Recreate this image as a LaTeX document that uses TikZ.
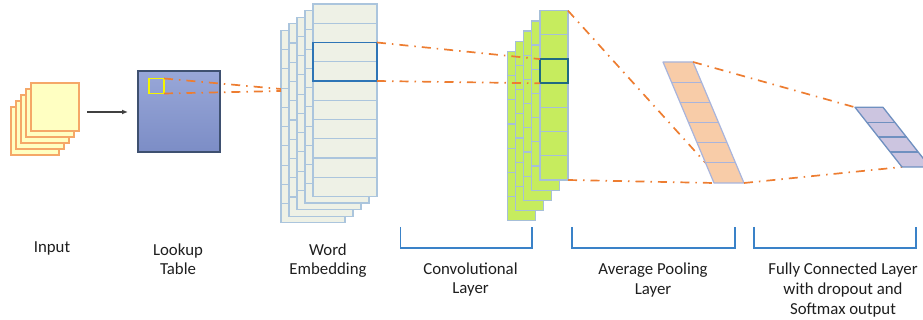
\documentclass[tikz,border=0pt]{standalone}
\usepackage{fontspec}
\setmainfont{Carlito}
\usetikzlibrary{arrows.meta,calc}

\definecolor{inputfill}{HTML}{FFFFC2}
\definecolor{inputborder}{HTML}{F5A868}
\definecolor{arrowgray}{HTML}{404040}
\definecolor{lookuptop}{HTML}{98A7D8}
\definecolor{lookupbottom}{HTML}{7C8DC6}
\definecolor{lookupborder}{HTML}{3E5070}
\definecolor{selyellow}{HTML}{F5F500}
\definecolor{embfill}{HTML}{EEF1E6}
\definecolor{embborder}{HTML}{ABC5DD}
\definecolor{hlblue}{HTML}{2E75B6}
\definecolor{convfill}{HTML}{C6EC5E}
\definecolor{convborder}{HTML}{A6BFD8}
\definecolor{convsel}{HTML}{1F6A82}
\definecolor{poolfill}{HTML}{F8CCA8}
\definecolor{poolborder}{HTML}{A8B4DC}
\definecolor{fcfill}{HTML}{CCC5E0}
\definecolor{fcborder}{HTML}{6F90C0}
\definecolor{linkorange}{HTML}{ED7D31}
\definecolor{bracketblue}{HTML}{3A82C8}
\definecolor{labeltext}{HTML}{1E1E1E}

\begin{document}
\begin{tikzpicture}[x=1pt,y=-1pt,
  inputsheet/.style={draw=inputborder, fill=inputfill, line width=1.2pt,
    minimum size=48pt, inner sep=0pt, outer sep=0pt},
  lookupbox/.style={draw=lookupborder, line width=1.5pt, top color=lookuptop,
    bottom color=lookupbottom, minimum width=82pt, minimum height=81pt,
    inner sep=0pt, outer sep=0pt},
  selbox/.style={draw=selyellow, line width=1.8pt, minimum size=15pt,
    inner sep=0pt, outer sep=0pt},
  embsheet/.style={draw=embborder, fill=embfill, line width=1.2pt,
    minimum width=64pt, minimum height=192.5pt, anchor=north west,
    inner sep=0pt, outer sep=0pt},
  embgrid/.style={draw=embborder, line width=1.1pt},
  embsel/.style={draw=hlblue, line width=1.8pt, minimum width=64pt,
    minimum height=38.5pt, anchor=north west, inner sep=0pt, outer sep=0pt},
  convsheet/.style={draw=convborder, fill=convfill, line width=1.3pt,
    minimum width=28pt, minimum height=169.3pt, anchor=north west,
    inner sep=0pt, outer sep=0pt},
  convgrid/.style={draw=convborder, line width=1.2pt},
  convselbox/.style={draw=convsel, line width=1.6pt, minimum width=28pt,
    minimum height=24.2pt, anchor=north west, inner sep=0pt, outer sep=0pt},
  poolshape/.style={draw=poolborder, fill=poolfill, line width=1.2pt, line join=round},
  poolgrid/.style={draw=poolborder, line width=1.2pt},
  fcshape/.style={draw=fcborder, fill=fcfill, line width=1.3pt, line join=round},
  fcgrid/.style={draw=fcborder, line width=1.3pt},
  orangelink/.style={draw=linkorange, line width=1.7pt,
    dash pattern=on 9pt off 6pt on 1.5pt off 6pt},
  bracketline/.style={draw=bracketblue, line width=1.4pt},
  % anchor=base puts the baseline of the last line at the given point
  caption/.style={font=\fontsize{16.8}{20}\selectfont, text=labeltext,
    align=center, inner sep=0pt, anchor=base},
]
\useasboundingbox (0,0) rectangle (923,320);

% ---- input: a stack of five sheets
\foreach \i in {4,3,2,1} {
  \node[inputsheet] (in\i) at ({55-5*\i},{107+6*\i}) {};
}
\node[inputsheet] (input) at (55,107) {};

% ---- lookup table
\node[lookupbox] (lookup) at (179,111.5) {};
\node[selbox] (sel) at (156.5,86) {};

\coordinate (arrowstart) at (87,112);
\draw[arrowgray, line width=1.3pt, -{Latex[length=6pt,width=5pt]},
  shorten >=10pt] (arrowstart) -- (lookup.west |- arrowstart);

% ---- word embedding: five sheets of ten rows
\foreach \i in {4,3,2,1,0} {
  \node[embsheet] (emb\i) at ({313-8*\i},{4+6.6*\i}) {};
  \foreach \r in {1,...,9} {
    \draw[embgrid] ([yshift={-19.25*\r}]emb\i.north west) -- ([yshift={-19.25*\r}]emb\i.north east);
  }
}
\node[embsel] (embsel) at (313,42.5) {};

% links from the lookup selection into the embedding stack
\coordinate (embentryA) at (281,89);
\coordinate (embentryB) at (281,91);
\draw[orangelink] (sel.north east) -- (embentryA);
\draw[orangelink] (sel.south east) -- (embentryB);

% ---- convolutional layer: five feature maps of seven cells
\foreach \i in {4,3,2,1,0} {
  \node[convsheet] (conv\i) at ({540-8.2*\i},{10.7+10.2*\i}) {};
  \foreach \r in {1,...,6} {
    \draw[convgrid] ([yshift={-24.19*\r}]conv\i.north west) -- ([yshift={-24.19*\r}]conv\i.north east);
  }
}
\node[convselbox] (convsel) at (540,59.1) {};

\draw[orangelink] (embsel.north east) -- (convsel.north west);
\draw[orangelink] (embsel.south east) -- (convsel.south west);

% ---- average pooling layer (slanted column of six cells)
\coordinate (pooltl) at (663,62);
\coordinate (pooltr) at (693,62);
\coordinate (poolbl) at (714,183);
\coordinate (poolbr) at (744,183);
\coordinate (poolcell) at (705.5,162.8);

\draw[orangelink] (conv0.north east) -- (poolcell);
\draw[orangelink] (conv0.south east) -- (poolbl);

\draw[poolshape] (pooltl) -- (pooltr) -- (poolbr) -- (poolbl) -- cycle;
\foreach \k in {1,...,5} {
  \draw[poolgrid] ($(pooltl)!{\k/6}!(poolbl)$) -- ($(pooltr)!{\k/6}!(poolbr)$);
}

% ---- fully connected layer (slanted column of four cells)
\coordinate (fctl) at (855,107.3);
\coordinate (fctr) at (883,107.3);
\coordinate (fcbl) at (902,167);
\coordinate (fcbr) at (930,167);

\draw[orangelink] (pooltr) -- (fctl);
\draw[orangelink] (poolbr) -- (fcbl);

\draw[fcshape] (fctl) -- (fctr) -- (fcbr) -- (fcbl) -- cycle;
\foreach \k in {1,...,3} {
  \draw[fcgrid] ($(fctl)!{\k/4}!(fcbl)$) -- ($(fctr)!{\k/4}!(fcbr)$);
}

% ---- brackets under the last three stages
\draw[bracketline] (400.7,227) -- (400.7,248) -- (532,248) -- (532,227);
\draw[bracketline] (572,227) -- (572,248) -- (735,248) -- (735,227);
\draw[bracketline] (754,227) -- (754,248) -- (916,248) -- (916,227);

% ---- captions
\node[caption] (capinput) at (52,253) {Input};
\node[caption] (caplookup) at (178,275) {Lookup\\Table};
\node[caption] (capemb) at (328,275) {Word\\Embedding};
\node[caption] (capconv) at (470.5,294) {Convolutional\\Layer};
\node[caption] (cappool) at (653,294.5) {Average Pooling\\Layer};
\node[caption] (capfc) at (843,314) {Fully Connected Layer\\with dropout and\\Softmax output};
\end{tikzpicture}
\end{document}
